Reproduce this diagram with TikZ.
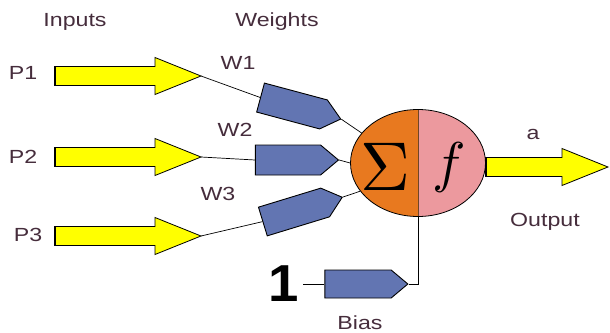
\documentclass[tikz,border=0pt]{standalone}
\usepackage{fontspec}
\setmainfont{Liberation Sans}
\usetikzlibrary{shapes.geometric,shapes.symbols}
\definecolor{yel}{RGB}{255,255,0}
\definecolor{wblue}{RGB}{98,117,178}
\definecolor{orng}{RGB}{232,121,31}
\definecolor{pnk}{RGB}{236,153,158}
\definecolor{txt}{RGB}{70,45,60}
\definecolor{splitc}{RGB}{110,70,40}
% #1 start x, #2 centre y, #3 body length, #4 tip coordinate name
\newcommand\YArrow[4]{%
  \draw[yarr] (#1,#2-9.5) -- (#1+#3,#2-9.5) -- (#1+#3,#2-18.5) -- (#1+#3+46,#2)
     -- (#1+#3,#2+18.5) -- (#1+#3,#2+9.5) -- (#1,#2+9.5) -- cycle;
  \draw[line width=1.6pt] (#1,#2+9.5) -- (#1,#2-9.5) -- (#1+#3,#2-9.5);
  \coordinate (#4) at (#1+#3+46,#2);}
\begin{document}
\begin{tikzpicture}[x=1pt,y=-1pt,
  lbl/.style={font=\fontsize{19}{19}\selectfont, text=txt, inner sep=1pt, xscale=1.22, transform shape},
  yarr/.style={draw=black, fill=yel, line width=0.8pt, line join=miter},
  wbox/.style={signal, signal to=east, signal pointer angle=80, draw=black, line width=0.9pt,
     fill=wblue, minimum width=83pt, minimum height=30pt, inner sep=0pt},
  wire/.style={draw=black, line width=0.7pt}]
\useasboundingbox[fill=white] (0,0) rectangle (610,332);

% headers
\node[lbl] (inputs) at (75,22) {Inputs};
\node[lbl] (weights) at (277,22) {Weights};

% input labels
\node[lbl] (p1) at (23,73) {P1};
\node[lbl] (p2) at (23,157) {P2};
\node[lbl] (p3) at (28,235) {P3};

% input arrows
\YArrow{55}{76}{100}{t1}
\YArrow{55}{157}{100}{t2}
\YArrow{55}{236}{100}{t3}

% weight labels
\node[lbl] (lw1) at (238,63) {W1};
\node[lbl] (lw2) at (235,130) {W2};
\node[lbl] (lw3) at (218,194) {W3};

% weights
\node[wbox, rotate=-15] (w1) at (292,106) {};
\node[wbox] (w2) at (288,160) {};
\node[wbox, rotate=17] (w3) at (294,212) {};
\node[wbox, minimum height=28pt] (bias) at (358,284) {};

% neuron
\node[ellipse, draw=black, line width=0.8pt, minimum width=135pt, minimum height=107pt, inner sep=0pt,
  path picture={
    \fill[orng] (path picture bounding box.north west) rectangle (path picture bounding box.south);
    \fill[pnk] (path picture bounding box.south) rectangle (path picture bounding box.north east);
    \draw[splitc, line width=1pt] (path picture bounding box.north) -- (path picture bounding box.south);
  }] (neuron) at (418,163) {};
\node[inner sep=0pt] (sigma) at (385,167) {\scalebox{6.9}{$\Sigma$}};
\node[inner sep=0pt] (fsym) at (449,167) {\scalebox{5.6}{$f$}};

% connectors
\draw[wire] (t1) -- (w1.west);
\draw[wire] (t2) -- (w2.west);
\draw[wire] (t3) -- (w3.west);
\draw[wire] (w1.east) -- (neuron.152);
\draw[wire] (w2.east) -- (neuron.west);
\draw[wire] (w3.east) -- (neuron.206);

% bias
\node[font=\fontsize{52}{52}\selectfont\bfseries, text=black, inner sep=0pt, xscale=1.05, transform shape] (one) at (284,284) {1};
\draw[wire] (one.east) ++(4,0) coordinate (onee) -- (bias.west);
\draw[wire] (bias.east) -| (neuron.south);
\node[lbl, anchor=base] (biaslbl) at (360,329) {Bias};

% output
\YArrow{486}{167}{76}{tout}
\node[lbl] (alab) at (533,134) {a};
\node[lbl] (outlbl) at (545,222) {Output};
\end{tikzpicture}
\end{document}
